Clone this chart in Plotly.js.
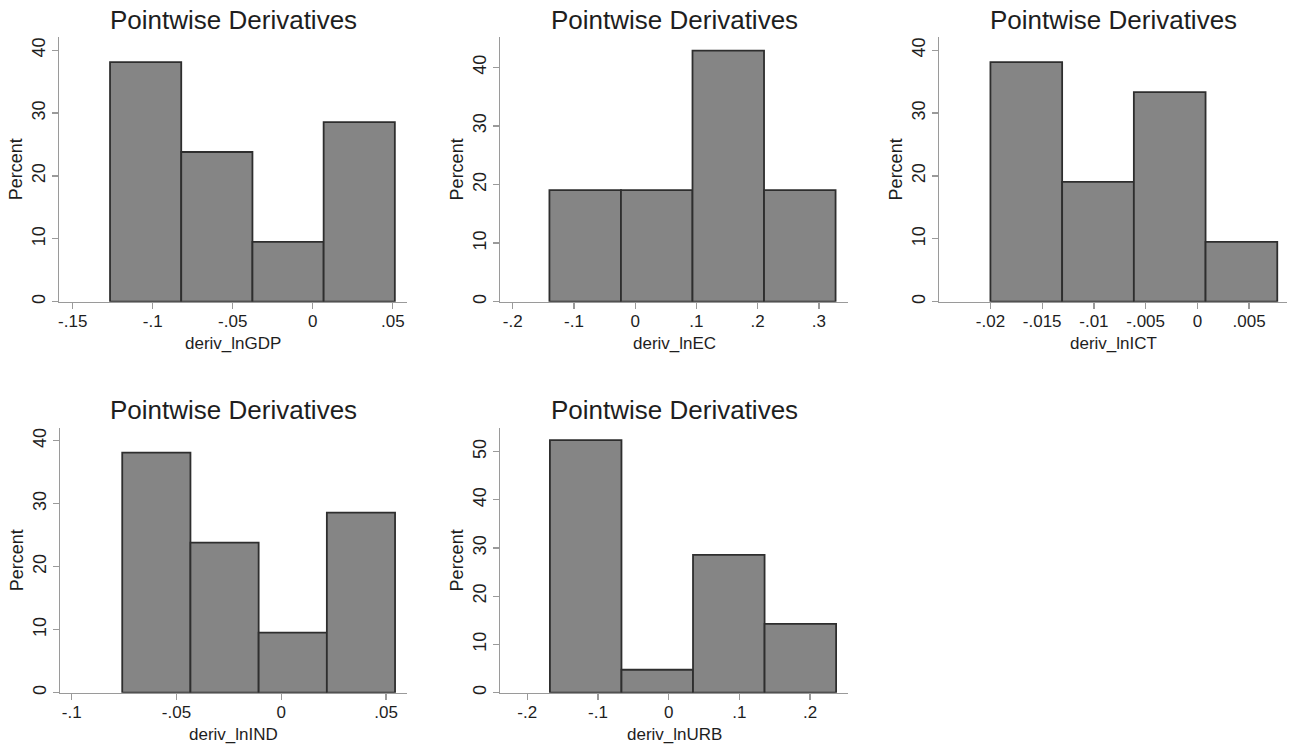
<!DOCTYPE html>
<html>
<head>
<meta charset="utf-8">
<script src="https://cdn.plot.ly/plotly-3.0.1.min.js"></script>
<style>html,body{margin:0;padding:0;background:#fff}#chart{width:1290px;height:747px}</style>
</head>
<body>
<div id="chart"></div>
<script>
// ---- data ----
const varNames = ["deriv_lnGDP", "deriv_lnEC", "deriv_lnICT", "deriv_lnIND", "deriv_lnURB"];
const panelTitle = "Pointwise Derivatives";

const gdpBinStart = -0.1267, gdpBinWidth = 0.0445;
const gdpPercent = [38.10, 23.81, 9.52, 28.57];

const ecBinStart = -0.140, ecBinWidth = 0.1168;
const ecPercent = [19.05, 19.05, 42.86, 19.05];

const ictBinStart = -0.0200, ictBinWidth = 0.00693;
const ictPercent = [38.10, 19.05, 33.33, 9.52];

const indBinStart = -0.0759, indBinWidth = 0.03255;
const indPercent = [38.10, 23.81, 9.52, 28.57];

const urbBinStart = -0.168, urbBinWidth = 0.1012;
const urbPercent = [52.38, 4.76, 28.57, 14.29];

const gdpTicks = [-0.15, -0.1, -0.05, 0, 0.05];
const gdpTickText = ["-.15", "-.1", "-.05", "0", ".05"];
const ecTicks = [-0.2, -0.1, 0, 0.1, 0.2, 0.3];
const ecTickText = ["-.2", "-.1", "0", ".1", ".2", ".3"];
const ictTicks = [-0.02, -0.015, -0.01, -0.005, 0, 0.005];
const ictTickText = ["-.02", "-.015", "-.01", "-.005", "0", ".005"];
const indTicks = [-0.1, -0.05, 0, 0.05];
const indTickText = ["-.1", "-.05", "0", ".05"];
const urbTicks = [-0.2, -0.1, 0, 0.1, 0.2];
const urbTickText = ["-.2", "-.1", "0", ".1", ".2"];

const yTicks40 = [0, 10, 20, 30, 40];
const yTicks50 = [0, 10, 20, 30, 40, 50];

// ---- layout geometry (pixels) ----
const W = 1290, H = 747;
const panels = [
  {start: gdpBinStart, width: gdpBinWidth, pct: gdpPercent, ticks: gdpTicks, tt: gdpTickText, yt: yTicks40,
   px: [59, 407], py: [301.7, 37], xr: [-0.1586, 0.0589], yr: [0, 42.1]},
  {start: ecBinStart, width: ecBinWidth, pct: ecPercent, ticks: ecTicks, tt: ecTickText, yt: yTicks40,
   px: [500, 848], py: [301.7, 37], xr: [-0.2207, 0.3475], yr: [0, 45.2]},
  {start: ictBinStart, width: ictBinWidth, pct: ictPercent, ticks: ictTicks, tt: ictTickText, yt: yTicks40,
   px: [939, 1287], py: [301.7, 37], xr: [-0.02497, 0.00866], yr: [0, 42.1]},
  {start: indBinStart, width: indBinWidth, pct: indPercent, ticks: indTicks, tt: indTickText, yt: yTicks40,
   px: [60, 407], py: [692.7, 428], xr: [-0.1056, 0.0600], yr: [0, 42.0]},
  {start: urbBinStart, width: urbBinWidth, pct: urbPercent, ticks: urbTicks, tt: urbTickText, yt: yTicks50,
   px: [500, 848], py: [692.7, 428], xr: [-0.2386, 0.2536], yr: [0, 54.9]}
];

const FONT = "Liberation Sans, Arial, Helvetica, sans-serif";
const textColor = "#1e1e1e";
const axisColor = "#9a9a9a";

const traces = [];
const layout = {
  width: W, height: H,
  margin: {l: 0, r: 0, t: 0, b: 0},
  paper_bgcolor: "#fff", plot_bgcolor: "#fff",
  showlegend: false, bargap: 0,
  font: {family: FONT, color: textColor},
  annotations: []
};

panels.forEach((p, i) => {
  const n = i + 1;
  const xa = n === 1 ? "x" : "x" + n;
  const ya = n === 1 ? "y" : "y" + n;
  const centers = p.pct.map((_, k) => p.start + p.width * (k + 0.5));
  traces.push({
    type: "bar", x: centers, y: p.pct, width: p.pct.map(() => p.width),
    xaxis: xa, yaxis: ya,
    marker: {color: "#858585", line: {color: "#2e2e2e", width: 1.8}},
    hoverinfo: "x+y"
  });
  layout["xaxis" + (n === 1 ? "" : n)] = {
    domain: [p.px[0] / W, p.px[1] / W], anchor: ya,
    range: p.xr, tickvals: p.ticks, ticktext: p.tt,
    showgrid: false, zeroline: false, showline: true, linecolor: axisColor, linewidth: 1.3,
    ticks: "outside", ticklen: 6, tickcolor: axisColor, tickwidth: 1.3,
    ticklabelstandoff: -2,
    tickfont: {size: 17, family: FONT, color: textColor},
    automargin: false, fixedrange: true
  };
  layout["yaxis" + (n === 1 ? "" : n)] = {
    domain: [1 - p.py[0] / H, 1 - p.py[1] / H], anchor: xa,
    range: p.yr, tickvals: p.yt,
    showgrid: false, zeroline: false, showline: true, linecolor: axisColor, linewidth: 1.3,
    ticks: "outside", ticklen: 6, tickcolor: axisColor, tickwidth: 1.3,
    tickangle: -90, ticklabelstandoff: 0,
    tickfont: {size: 18, family: FONT, color: textColor},
    title: {text: "Percent", font: {size: 18, family: FONT, color: textColor}, standoff: 1},
    automargin: false, fixedrange: true
  };
  // subplot title
  layout.annotations.push({
    text: panelTitle, showarrow: false,
    xref: xa + " domain", yref: ya + " domain", x: 0.5, y: 1,
    xanchor: "center", yanchor: "middle", yshift: n <= 3 ? 17 : 18,
    font: {size: 26, family: FONT, color: "#1e1e1e"}
  });
  // x-axis title (variable name)
  layout.annotations.push({
    text: varNames[i], showarrow: false,
    xref: xa + " domain", yref: ya + " domain", x: 0.5, y: 0,
    xanchor: "center", yanchor: "middle", yshift: -42,
    font: {size: 17, family: FONT, color: textColor}
  });
});

Plotly.newPlot("chart", traces, layout, {displayModeBar: false, staticPlot: true});
</script>
</body>
</html>
